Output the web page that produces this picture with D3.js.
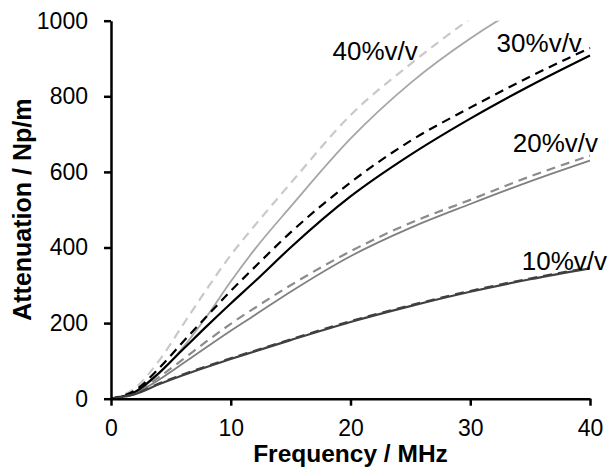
<!DOCTYPE html>
<html>
<head>
<meta charset="utf-8">
<script src="https://cdn.jsdelivr.net/npm/d3@7"></script>
<style>
  html, body { margin: 0; padding: 0; background: #fff; }
  svg { display: block; font-family: "Liberation Sans", Arial, sans-serif; }
</style>
</head>
<body>
<svg id="chart" width="608" height="468"></svg>
<script>
// frequency grid (MHz)
const freq = [0, 2, 4, 6, 8, 10, 12, 15, 20, 25, 30, 35, 40];

// attenuation (Np/m), solid = measured, dashed = model
const solid10 = [0, 12, 38, 62, 84, 105, 125, 155, 203, 245, 283, 316, 345];
const dashed10 = [0, 13, 40, 64, 86, 107, 127, 157, 205, 247, 285, 318, 347];
const solid20 = [0, 15, 50, 93, 137, 180, 221, 283, 377, 452, 515, 575, 630];
const dashed20 = [0, 17, 57, 104, 152, 198, 240, 300, 390, 465, 526, 588, 643];
const solid30 = [0, 18, 68, 130, 192, 252, 310, 400, 535, 645, 741, 828, 908];
const dashed30 = [0, 22, 80, 150, 218, 285, 348, 440, 572, 682, 770, 852, 928];
const solid40 = [0, 17, 66, 135, 218, 310, 395, 508, 688, 835, 953, 1050, 1130];
const dashed40 = [0, 28, 100, 195, 290, 380, 458, 570, 750, 885, 1005, 1110, 1200];

const xTicks = [0, 10, 20, 30, 40];
const yTicks = [0, 200, 400, 600, 800, 1000];

// label anchor points, in data units
const labelNames = ["40%v/v", "30%v/v", "20%v/v", "10%v/v"];
const labelFreq = [18.5, 32.2, 33.55, 34.3];
const labelAtten = [895, 918, 653, 340];

const series = [
  { values: dashed40, color: "#c9c9c9", width: 2.2, dash: "9,6" },
  { values: solid40, color: "#a6a6a6", width: 1.8, dash: null },
  { values: dashed20, color: "#8c8c8c", width: 2.2, dash: "9,6" },
  { values: solid20, color: "#808080", width: 1.8, dash: null },
  { values: dashed30, color: "#000000", width: 2.2, dash: "9,6" },
  { values: solid30, color: "#000000", width: 2.2, dash: null },
  { values: dashed10, color: "#404040", width: 2.2, dash: "9,6" },
  { values: solid10, color: "#404040", width: 2.2, dash: null },
];

const svg = d3.select("#chart");

const x = d3.scaleLinear().domain([0, 40]).range([111, 590]);
const y = d3.scaleLinear().domain([0, 1000]).range([398.7, 20.7]);

svg.append("defs").append("clipPath").attr("id", "plot-clip")
  .append("rect")
  .attr("x", x(0))
  .attr("y", y(1000))
  .attr("width", x(40) - x(0) + 2)
  .attr("height", y(0) - y(1000));

const line = d3.line()
  .x((d, i) => x(freq[i]))
  .y((d) => y(d))
  .curve(d3.curveMonotoneX);

const plotG = svg.append("g").attr("clip-path", "url(#plot-clip)");

plotG.selectAll("path")
  .data(series)
  .enter()
  .append("path")
  .attr("fill", "none")
  .attr("stroke", (d) => d.color)
  .attr("stroke-width", (d) => d.width)
  .attr("stroke-dasharray", (d) => d.dash)
  .attr("d", (d) => line(d.values));

// axes
const xAxis = svg.append("g")
  .attr("transform", `translate(0,${y(0)})`)
  .call(d3.axisBottom(x).tickValues(xTicks).tickFormat(d3.format("d"))
    .tickSize(7).tickSizeOuter(0).tickPadding(14));

const yAxis = svg.append("g")
  .attr("transform", `translate(${x(0)},0)`)
  .call(d3.axisLeft(y).tickValues(yTicks).tickFormat(d3.format("d"))
    .tickSize(7).tickSizeOuter(0).tickPadding(16));

[xAxis, yAxis].forEach((g) => {
  g.select(".domain").attr("stroke", "#000").attr("stroke-width", 2.5);
  g.selectAll(".tick line").attr("stroke", "#000").attr("stroke-width", 2.5);
  g.selectAll(".tick text")
    .attr("fill", "#000")
    .style("font-size", "23px")
    .style("font-family", '"Liberation Sans", Arial, sans-serif');
});

// series labels
svg.append("g")
  .selectAll("text")
  .data(labelNames)
  .enter()
  .append("text")
  .attr("x", (d, i) => x(labelFreq[i]))
  .attr("y", (d, i) => y(labelAtten[i]))
  .attr("font-size", 26)
  .attr("fill", "#000")
  .text((d) => d);

// axis titles
svg.append("text")
  .attr("x", (x(0) + x(40)) / 2)
  .attr("y", 462)
  .attr("text-anchor", "middle")
  .attr("font-size", 24.5)
  .attr("font-weight", "bold")
  .text("Frequency / MHz");

svg.append("text")
  .attr("transform", `translate(31,${(y(0) + y(1000)) / 2}) rotate(-90)`)
  .attr("text-anchor", "middle")
  .attr("font-size", 25)
  .attr("font-weight", "bold")
  .text("Attenuation / Np/m");
</script>
</body>
</html>
